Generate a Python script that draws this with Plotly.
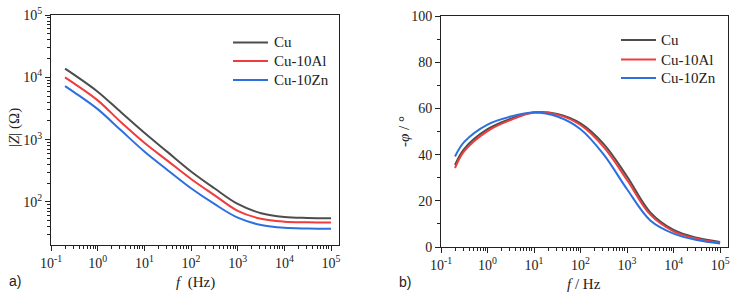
import plotly.graph_objects as go

# ---- data ----
series_names = ["Cu", "Cu-10Al", "Cu-10Zn"]
colors = ["#4d4d4d", "#f03c3c", "#2c70e0"]

# frequency grid (Hz) at which curves were read
freq = [0.2, 0.316, 1, 3.16, 10, 31.6, 100, 316, 1000, 3160, 10000, 31600, 100000]

# |Z| (ohm)
z_cu = [13800, 10960, 5890, 2750, 1290, 631, 309, 166, 93, 66, 57.5, 55.6, 55]
z_al = [10000, 7940, 4270, 1905, 891, 457, 234, 129, 72, 53.7, 48.4, 47.3, 46.8]
z_zn = [7240, 5750, 3090, 1410, 646, 324, 166, 93, 56, 42.7, 38.5, 37.6, 37.2]

# -phase (deg)
p_cu = [35.5, 42.5, 51.0, 55.5, 58.3, 57.6, 53.5, 44.5, 30.5, 15.0, 7.4, 4.0, 2.2]
p_al = [34.2, 41.5, 50.2, 55.0, 58.2, 57.3, 52.8, 43.2, 29.0, 14.0, 6.8, 3.6, 1.9]
p_zn = [39.2, 45.5, 53.0, 56.5, 58.2, 56.5, 51.0, 40.0, 25.0, 11.5, 5.8, 3.0, 1.5]

log_tickvals = [0.1, 1, 10, 100, 1000, 10000, 100000]
log_ticktext = ["10<sup>-1</sup>", "10<sup>0</sup>", "10<sup>1</sup>", "10<sup>2</sup>",
                "10<sup>3</sup>", "10<sup>4</sup>", "10<sup>5</sup>"]
z_tickvals = [100, 1000, 10000, 100000]
z_ticktext = ["10<sup>2</sup>", "10<sup>3</sup>", "10<sup>4</sup>", "10<sup>5</sup>"]
phase_tickvals = [0, 20, 40, 60, 80, 100]

W, H = 736, 298
SERIF = "Liberation Serif, Times New Roman, serif"
SANS = "Liberation Sans, Arial, sans-serif"
INK = "#222"

fig = go.Figure()
for name, col, zy in zip(series_names, colors, [z_cu, z_al, z_zn]):
    fig.add_trace(go.Scatter(x=freq, y=zy, mode="lines", name=name, showlegend=False,
                             line=dict(color=col, width=2, shape="spline", smoothing=1.0),
                             xaxis="x", yaxis="y"))
for name, col, py in zip(series_names, colors, [p_cu, p_al, p_zn]):
    fig.add_trace(go.Scatter(x=freq, y=py, mode="lines", name=name, showlegend=False,
                             line=dict(color=col, width=2, shape="spline", smoothing=1.0),
                             xaxis="x2", yaxis="y2"))

minor_log = []
for d in [0.1, 1, 10, 100, 1000, 10000, 100000]:
    for k in range(2, 10):
        v = d * k
        if v <= 140000:
            minor_log.append(v)


def px(xp):
    return xp / W


def py_(yp):
    return 1 - yp / H


axis_common = dict(showline=True, linecolor=INK, linewidth=1, mirror=True,
                   ticks="outside", ticklen=5, tickcolor=INK, showgrid=False,
                   zeroline=False, automargin=False,
                   tickfont=dict(family=SERIF, size=14, color=INK))
minor_common = dict(ticks="outside", ticklen=3, tickcolor=INK, showgrid=False)

# manual legends (line sample + real text) to match the reference's compact spacing
shapes = []
annotations = []
legend_specs = [  # (line x0, line x1, text x, [y positions])
    (233, 268, 272, [42.5, 61, 80]),
    (621, 656, 659, [40, 59.5, 78]),
]
for x0, x1, xt, ys in legend_specs:
    for name, col, yy in zip(series_names, colors, ys):
        shapes.append(dict(type="line", xref="paper", yref="paper",
                           x0=px(x0), x1=px(x1), y0=py_(yy), y1=py_(yy),
                           line=dict(color=col, width=2)))
        annotations.append(dict(text=name, x=px(xt), y=py_(yy), xref="paper", yref="paper",
                                xanchor="left", yanchor="middle", showarrow=False,
                                font=dict(family=SERIF, size=15, color=INK)))


def label(text, x, y, size=15, family=SERIF, angle=0):
    return dict(text=text, x=px(x), y=py_(y), xref="paper", yref="paper",
                xanchor="center", yanchor="middle", showarrow=False, textangle=angle,
                font=dict(family=family, size=size, color=INK))


annotations += [
    label("|<i>Z</i>| (Ω)", 14, 128, angle=-90),
    label("<i>f</i>  (Hz)", 195, 282),
    label("-<i>φ</i> / °", 404, 132, angle=-90),
    label("<i>f</i> / Hz", 584, 284),
    label("a)", 15, 281, size=14, family=SANS),
    label("b)", 405, 282, size=14, family=SANS),
]

fig.update_layout(
    width=W, height=H, margin=dict(l=0, r=0, t=0, b=0),
    paper_bgcolor="white", plot_bgcolor="white", showlegend=False,
    xaxis=dict(domain=[px(51), px(339)], type="log", range=[-1, 5.17],
               tickvals=log_tickvals, ticktext=log_ticktext, anchor="y",
               minor=dict(tickvals=minor_log, **minor_common), **axis_common),
    yaxis=dict(domain=[py_(245), py_(15)], type="log", range=[1.31, 5],
               tickvals=z_tickvals, ticktext=z_ticktext, anchor="x",
               minor=dict(tickvals=[v for v in minor_log if v >= 20], **minor_common),
               **axis_common),
    xaxis2=dict(domain=[px(441), px(728)], type="log", range=[-1, 5.17],
                tickvals=log_tickvals, ticktext=log_ticktext, anchor="y2",
                minor=dict(tickvals=minor_log, **minor_common), **axis_common),
    yaxis2=dict(domain=[py_(247), py_(16)], range=[0, 100],
                tickvals=phase_tickvals, anchor="x2",
                minor=dict(tickvals=[10, 30, 50, 70, 90], **minor_common), **axis_common),
    shapes=shapes,
    annotations=annotations,
)

fig.write_html("out.html", config={"displayModeBar": False},
               post_script="document.body.style.margin='0';document.body.style.overflow='hidden';")
